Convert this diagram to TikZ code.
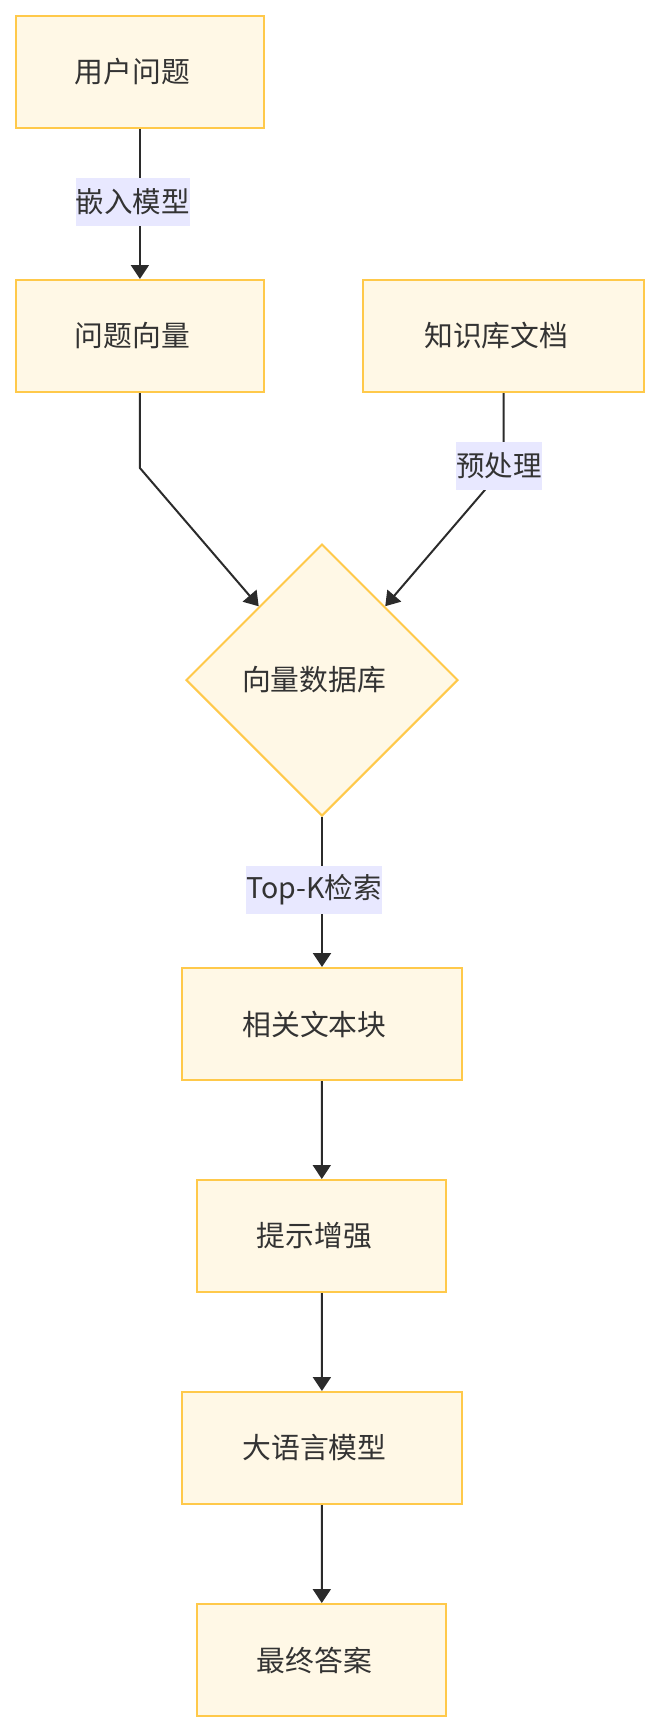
\documentclass[tikz,border=0pt]{standalone}
\usepackage{fontspec}
\setmainfont{Noto Sans CJK SC}
\usetikzlibrary{shapes.geometric,arrows.meta}
\definecolor{nodefill}{HTML}{FFF8E6}
\definecolor{nodeborder}{HTML}{FFC94A}
\definecolor{lblbg}{HTML}{E8E8FF}
\definecolor{txtcol}{HTML}{333333}
\definecolor{edgecol}{HTML}{2B2B2B}
\begin{document}
\begin{tikzpicture}[x=1pt,y=-1pt,
  box/.style={draw=nodeborder, fill=nodefill, line width=2pt, minimum height=112pt,
    inner sep=0pt, text=txtcol, font=\fontsize{28.8}{34}\selectfont,
    execute at end node={\hspace*{15pt}}},
  dia/.style={diamond, aspect=1, draw=nodeborder, fill=nodefill, line width=2pt,
    minimum width=272pt, minimum height=272pt, inner sep=0pt, text=txtcol,
    font=\fontsize{28.8}{34}\selectfont, execute at end node={\hspace*{16pt}}},
  lbl/.style={fill=lblbg, text=txtcol, inner sep=0pt, minimum height=47.5pt,
    font=\fontsize{28.5}{34}\selectfont},
  arr/.style={draw=edgecol, line width=2pt, -{Triangle[length=14pt,width=18pt]}}]
\useasboundingbox (0,0) rectangle (660,1732);
\node[box, minimum width=248.7pt] (uq) at (139.9,71.9) {用户问题};
\node[box, minimum width=248.7pt] (qv) at (139.9,336) {问题向量};
\node[box, minimum width=280.7pt] (kd) at (503.7,336) {知识库文档};
\node[dia] (db) at (322,680) {向量数据库};
\node[box, minimum width=280.6pt] (rc) at (322,1024) {相关文本块};
\node[box, minimum width=248.7pt] (pa) at (321.7,1236) {提示增强};
\node[box, minimum width=280.6pt] (llm) at (322,1448) {大语言模型};
\node[box, minimum width=248.7pt] (fa) at (321.7,1660) {最终答案};
\coordinate (qbend) at (139.9,468);
\coordinate (kbend) at (503.7,468);
\draw[arr] (uq) -- (qv);
\node[lbl] (l1) at (132.9,202) {嵌入模型};
\draw[arr] (qv) -- (qbend) -- (db);
\draw[arr] (kd) -- (kbend) -- (db);
\node[lbl] (l2) at (498.8,466) {预处理};
\draw[arr] (db) -- (rc);
\node[lbl] (l3) at (314,890) {Top-K检索};
\draw[arr] (rc) -- (pa);
\draw[arr] (pa) -- (llm);
\draw[arr] (llm) -- (fa);
\end{tikzpicture}
\end{document}
